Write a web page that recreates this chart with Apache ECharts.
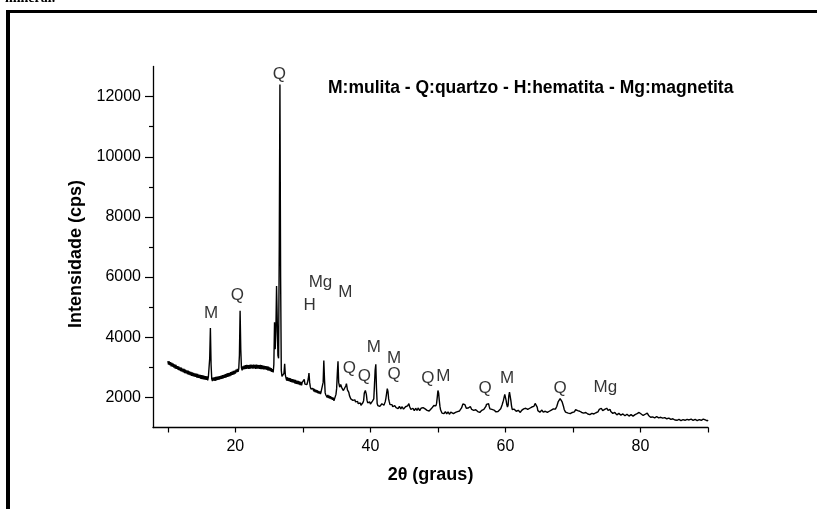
<!DOCTYPE html>
<html>
<head>
<meta charset="utf-8">
<script src="https://cdn.jsdelivr.net/npm/echarts@6/dist/echarts.min.js"></script>
<style>
html,body{margin:0;padding:0;background:#fff;}
#c{width:817px;height:509px;}
</style>
</head>
<body>
<div id="c"></div>
<script>
// XRD pattern: [2θ (graus), Intensidade (cps)]
var xrdPattern = [
[10.0,3210],[10.1,3090],[10.2,3200],[10.3,3070],[10.4,3170],[10.5,3030],[10.6,3150],[10.7,3020],[10.8,3120],[10.9,2990],
[11.0,3100],[11.1,2960],[11.2,3080],[11.3,2950],[11.4,3040],[11.5,2920],[11.6,3030],[11.7,2900],[11.8,3000],[11.9,2870],
[12.0,2990],[12.1,2860],[12.2,2960],[12.3,2830],[12.4,2950],[12.5,2810],[12.6,2920],[12.7,2800],[12.8,2900],[12.9,2770],
[13.0,2890],[13.1,2760],[13.2,2870],[13.3,2740],[13.4,2850],[13.5,2720],[13.6,2830],[13.7,2710],[13.8,2820],[13.9,2690],
[14.0,2800],[14.1,2680],[14.2,2790],[14.3,2660],[14.4,2780],[14.5,2650],[14.6,2760],[14.7,2640],[14.8,2750],[14.9,2620],
[15.0,2740],[15.1,2610],[15.2,2730],[15.3,2600],[15.4,2720],[15.5,2590],[15.6,2710],[15.7,2580],[15.8,2700],[15.9,2570],
[16.0,2680],[16.1,2720],[16.2,3300],[16.3,4310],[16.4,3100],[16.5,2620],[16.6,2540],[16.7,2660],[16.8,2560],[16.9,2670],
[17.0,2550],[17.1,2680],[17.2,2570],[17.3,2690],[17.4,2580],[17.5,2700],[17.6,2590],[17.7,2710],[17.8,2610],[17.9,2720],
[18.0,2620],[18.1,2740],[18.2,2630],[18.3,2750],[18.4,2650],[18.5,2770],[18.6,2660],[18.7,2790],[18.8,2680],[18.9,2810],
[19.0,2690],[19.1,2820],[19.2,2710],[19.3,2840],[19.4,2730],[19.5,2860],[19.6,2750],[19.7,2880],[19.8,2770],[19.9,2890],
[20.0,2790],[20.1,2920],[20.2,2830],[20.3,2950],[20.4,2850],[20.5,2950],[20.6,3400],[20.7,4880],[20.8,3600],[20.9,2980],
[21.0,2900],[21.1,3030],[21.2,2930],[21.3,3060],[21.4,2940],[21.5,3070],[21.6,2950],[21.7,3080],[21.8,2960],[21.9,3070],
[22.0,2950],[22.1,3080],[22.2,2960],[22.3,3090],[22.4,2970],[22.5,3080],[22.6,2960],[22.7,3090],[22.8,2970],[22.9,3080],
[23.0,2950],[23.1,3090],[23.2,2960],[23.3,3080],[23.4,2960],[23.5,3070],[23.6,2950],[23.7,3080],[23.8,2940],[23.9,3070],
[24.0,2940],[24.1,3060],[24.2,2930],[24.3,3050],[24.4,2930],[24.5,3040],[24.6,2920],[24.7,3030],[24.8,2900],[24.9,3020],
[25.0,2890],[25.1,3000],[25.2,2870],[25.3,2970],[25.4,2850],[25.5,2940],[25.6,2830],[25.7,3100],[25.8,4500],[25.9,3600],
[26.0,4200],[26.1,5700],[26.2,4600],[26.3,3400],[26.4,3300],[26.5,7000],[26.6,12400],[26.7,6000],[26.8,2900],[26.9,2700],
[27.0,2640],[27.1,2660],[27.2,2800],[27.3,3120],[27.4,2750],[27.5,2640],[27.6,2560],[27.7,2670],[27.8,2550],[27.9,2650],
[28.0,2530],[28.1,2640],[28.2,2520],[28.3,2620],[28.4,2500],[28.5,2610],[28.6,2490],[28.7,2590],[28.8,2470],[28.9,2580],
[29.0,2450],[29.1,2560],[29.2,2440],[29.3,2550],[29.4,2430],[29.5,2530],[29.6,2410],[29.7,2520],[29.8,2400],[29.9,2500],
[30.0,2450],[30.1,2520],[30.2,2600],[30.3,2440],[30.4,2400],[30.5,2470],[30.6,2430],[30.7,2520],[30.8,2620],[30.9,2810],
[31.0,2500],[31.1,2350],[31.2,2280],[31.3,2330],[31.4,2220],[31.5,2300],[31.6,2200],[31.7,2280],[31.8,2180],[31.9,2260],
[32.0,2160],[32.1,2240],[32.2,2140],[32.3,2220],[32.4,2130],[32.5,2200],[32.6,2110],[32.7,2190],[32.8,2150],[32.9,2250],
[33.0,2500],[33.1,3230],[33.2,2600],[33.3,2150],[33.4,2080],[33.5,2030],[33.6,2000],[33.7,2080],[33.8,1980],[33.9,2060],
[34.0,1960],[34.1,2040],[34.2,1940],[34.3,2010],[34.4,1920],[34.5,1990],[34.6,1890],[34.7,1960],[34.8,1990],[34.9,2100],
[35.0,2300],[35.1,2800],[35.2,3200],[35.3,2500],[35.45,2340],[35.6,2430],[35.7,2480],[35.8,2300],[35.9,2260],[36.0,2230],
[36.1,2180],[36.2,2200],[36.35,2380],[36.45,2460],[36.6,2250],[36.7,2200],[36.8,2170],[36.9,2060],[37.0,2010],[37.1,1950],
[37.2,1990],[37.3,1920],[37.4,1900],[37.5,1960],[37.6,1880],[37.7,1920],[37.8,1850],[37.9,1900],[38.0,1830],[38.1,1870],
[38.2,1790],[38.3,1840],[38.4,1770],[38.5,1820],[38.6,1740],[38.7,1800],[38.8,1780],[38.9,1830],[39.0,1900],[39.1,2150],
[39.25,2230],[39.4,2100],[39.5,1900],[39.6,1820],[39.75,1790],[39.9,1850],[40.0,1780],[40.1,1800],[40.2,1840],[40.3,1880],
[40.4,1860],[40.5,1950],[40.6,2400],[40.7,2900],[40.8,3100],[40.9,2300],[41.0,1800],[41.1,1730],[41.2,1780],[41.3,1760],
[41.4,1700],[41.5,1720],[41.6,1760],[41.7,1790],[41.8,1730],[41.9,1760],[42.0,1740],[42.1,1800],[42.2,1860],[42.3,1980],
[42.5,2290],[42.6,2200],[42.7,1950],[42.8,1850],[42.9,1760],[43.0,1730],[43.1,1780],[43.2,1760],[43.3,1690],[43.4,1700],
[43.5,1750],[43.6,1730],[43.7,1680],[43.8,1660],[43.9,1710],[44.0,1690],[44.1,1630],[44.2,1640],[44.3,1700],[44.4,1680],
[44.5,1620],[44.6,1630],[44.7,1690],[44.8,1670],[44.9,1610],[45.0,1640],[45.1,1660],[45.2,1690],[45.4,1700],[45.5,1720],
[45.6,1760],[45.7,1790],[45.8,1700],[45.9,1650],[46.0,1600],[46.2,1570],[46.3,1640],[46.4,1620],[46.5,1560],[46.6,1580],
[46.7,1640],[46.8,1630],[46.9,1570],[47.0,1590],[47.1,1650],[47.2,1620],[47.3,1560],[47.4,1580],[47.5,1640],[47.6,1630],
[47.8,1660],[47.9,1700],[48.0,1650],[48.1,1620],[48.2,1580],[48.4,1570],[48.5,1620],[48.6,1610],[48.7,1550],[48.9,1560],
[49.0,1620],[49.1,1610],[49.2,1650],[49.4,1730],[49.5,1690],[49.6,1680],[49.7,1720],[49.8,1800],[49.9,2000],[50.0,2230],
[50.1,2150],[50.2,1900],[50.3,1700],[50.4,1580],[50.5,1520],[50.6,1480],[50.7,1530],[50.8,1520],[50.9,1460],[51.0,1470],
[51.1,1530],[51.2,1510],[51.3,1450],[51.4,1460],[51.5,1520],[51.6,1500],[51.7,1440],[51.8,1450],[51.9,1510],[52.0,1490],
[52.1,1450],[52.3,1460],[52.4,1520],[52.6,1500],[52.7,1470],[52.9,1530],[53.0,1510],[53.2,1550],[53.3,1600],[53.5,1650],
[53.6,1700],[53.7,1780],[53.8,1820],[53.9,1840],[54.0,1760],[54.1,1700],[54.2,1640],[54.3,1620],[54.4,1660],[54.5,1650],
[54.6,1690],[54.8,1700],[54.9,1640],[55.0,1600],[55.1,1620],[55.3,1570],[55.4,1610],[55.6,1590],[55.7,1540],[55.9,1530],
[56.0,1580],[56.1,1560],[56.2,1500],[56.3,1510],[56.5,1570],[56.6,1560],[56.8,1600],[56.9,1620],[57.0,1660],[57.1,1700],
[57.2,1770],[57.3,1800],[57.4,1810],[57.5,1790],[57.6,1700],[57.7,1620],[57.8,1570],[57.9,1620],[58.0,1600],[58.1,1660],
[58.2,1630],[58.3,1580],[58.4,1560],[58.5,1580],[58.6,1520],[58.7,1500],[58.8,1480],[58.9,1530],[59.0,1540],[59.1,1580],
[59.3,1620],[59.4,1680],[59.5,1750],[59.6,1820],[59.7,1900],[59.8,2000],[59.9,2100],[60.0,2120],[60.1,1900],[60.2,1760],
[60.3,1680],[60.4,1750],[60.5,2050],[60.6,2180],[60.65,2230],[60.7,2150],[60.8,1900],[60.9,1720],[61.0,1600],[61.1,1580],
[61.2,1560],[61.3,1610],[61.5,1590],[61.6,1540],[61.8,1520],[61.9,1570],[62.0,1550],[62.2,1500],[62.3,1510],[62.4,1570],
[62.5,1560],[62.7,1620],[62.8,1600],[62.9,1580],[63.0,1640],[63.1,1660],[63.2,1610],[63.3,1600],[63.5,1660],[63.6,1640],
[63.8,1620],[63.9,1680],[64.0,1660],[64.1,1630],[64.2,1700],[64.3,1760],[64.4,1800],[64.5,1830],[64.6,1820],[64.7,1680],
[64.8,1560],[64.9,1590],[65.0,1530],[65.1,1510],[65.3,1560],[65.4,1580],[65.6,1510],[65.7,1530],[65.9,1540],[66.0,1500],
[66.2,1500],[66.3,1550],[66.5,1540],[66.6,1510],[66.8,1580],[66.9,1560],[67.0,1600],[67.1,1620],[67.3,1640],[67.4,1610],
[67.6,1700],[67.7,1760],[67.8,1850],[67.9,1800],[68.0,1880],[68.1,1960],[68.15,2000],[68.2,1940],[68.3,1900],[68.4,1850],
[68.5,1800],[68.6,1700],[68.7,1600],[68.8,1550],[68.9,1510],[69.0,1540],[69.1,1470],[69.3,1480],[69.4,1500],[69.5,1450],
[69.6,1460],[69.8,1520],[69.9,1500],[70.1,1530],[70.2,1520],[70.4,1590],[70.5,1580],[70.6,1540],[70.7,1560],[70.9,1500],
[71.0,1540],[71.2,1520],[71.3,1500],[71.5,1470],[71.6,1480],[71.8,1520],[71.9,1500],[72.1,1440],[72.2,1450],[72.4,1470],
[72.5,1430],[72.7,1480],[72.8,1470],[73.0,1430],[73.1,1450],[73.3,1500],[73.4,1490],[73.6,1530],[73.7,1520],[73.8,1580],
[73.9,1600],[74.0,1540],[74.1,1560],[74.2,1640],[74.3,1620],[74.4,1560],[74.5,1540],[74.6,1610],[74.7,1600],[74.8,1560],
[74.9,1580],[75.0,1640],[75.1,1630],[75.2,1570],[75.3,1580],[75.4,1620],[75.5,1600],[75.6,1530],[75.7,1480],[75.9,1470],
[76.0,1450],[76.2,1500],[76.3,1480],[76.5,1420],[76.6,1430],[76.8,1470],[76.9,1460],[77.1,1410],[77.2,1410],[77.4,1450],
[77.5,1440],[77.7,1390],[77.8,1400],[78.0,1440],[78.1,1430],[78.3,1380],[78.4,1390],[78.6,1430],[78.7,1420],[78.9,1380],
[79.0,1390],[79.2,1430],[79.3,1420],[79.5,1460],[79.6,1440],[79.8,1500],[79.9,1480],[80.1,1450],[80.2,1420],[80.4,1400],
[80.5,1380],[80.6,1420],[80.7,1440],[80.8,1460],[80.9,1500],[81.0,1480],[81.1,1440],[81.2,1400],[81.4,1350],[81.5,1340],
[81.7,1370],[81.8,1350],[82.0,1310],[82.1,1320],[82.3,1370],[82.4,1360],[82.6,1310],[82.7,1320],[82.9,1360],[83.0,1340],
[83.2,1300],[83.3,1310],[83.5,1350],[83.6,1330],[83.8,1280],[83.9,1290],[84.1,1330],[84.2,1310],[84.4,1260],[84.5,1270],
[84.7,1310],[84.8,1290],[85.0,1240],[85.1,1250],[85.3,1280],[85.4,1240],[85.6,1230],[85.7,1270],[85.9,1260],[86.0,1230],
[86.2,1220],[86.3,1260],[86.5,1270],[86.6,1240],[86.8,1230],[86.9,1270],[87.1,1280],[87.2,1250],[87.4,1240],[87.5,1280],
[87.7,1270],[87.8,1240],[88.0,1230],[88.1,1270],[88.3,1260],[88.4,1230],[88.6,1220],[88.7,1260],[88.9,1270],[89.0,1240],
[89.2,1230],[89.3,1280],[89.5,1270],[89.6,1250],[89.8,1230],[89.9,1220],[90.0,1250]
];
// Phase labels and their anchor (2θ, intensity)
var peakNames = ['Q','M','Q','H','Mg','M','Q','Q','M','M','Q','Q','M','Q','M','Q','Mg'];
var peakX =     [26.5,16.4,20.3,31.0,32.6,36.3,36.9,39.1,40.5,43.5,43.5,48.5,50.8,57.0,60.25,68.1,74.8];
var peakY =     [12750,4800,5400,5070,5830,5500,2960,2700,3660,3290,2770,2620,2700,2290,2620,2290,2320];
var legendText = 'M:mulita - Q:quartzo - H:hematita - Mg:magnetita';
var yAxisTitle = 'Intensidade (cps)';
var xTicks = [10,20,30,40,50,60,70,80,90];
var xLabels = [20,40,60,80];
var yTicksMinor = [3000,5000,7000,9000,11000];
var yLabels = [2000,4000,6000,8000,10000,12000];

var labelData = peakNames.map(function(n,i){return {name:n,value:[peakX[i],peakY[i]]};});

var FONT = '"Liberation Sans", Arial, sans-serif';
var chart = echarts.init(document.getElementById('c'), null, {renderer:'canvas'});
chart.setOption({
  animation:false,
  backgroundColor:'#fff',
  grid:{left:153,top:66.5,width:555,height:361,containLabel:false},
  xAxis:[{
    type:'value', min:7.8, max:90,
    name:'2θ (graus)', nameLocation:'middle', nameGap:39,
    nameTextStyle:{fontFamily:FONT,fontSize:18,fontWeight:'bold',color:'#000'},
    axisLine:{show:true,lineStyle:{color:'#000',width:1.3}},
    axisTick:{show:true,inside:false,length:5,customValues:xTicks,lineStyle:{color:'#000',width:1.2}},
    axisLabel:{show:true,customValues:xLabels,margin:11,fontFamily:FONT,fontSize:16,color:'#000',
      formatter:function(v){return String(v);}},
    splitLine:{show:false}
  }],
  yAxis:[{
    type:'value', min:1000, max:13000,
    axisLine:{show:true,lineStyle:{color:'#000',width:1.3}},
    axisTick:{show:true,inside:false,length:8,customValues:yLabels,lineStyle:{color:'#000',width:1.2}},
    axisLabel:{show:true,customValues:yLabels,margin:12,fontFamily:FONT,fontSize:16,color:'#000',
      formatter:function(v){return String(v);}},
    splitLine:{show:false}
  },{
    type:'value', min:1000, max:13000, position:'left',
    axisLine:{show:false},
    axisTick:{show:true,inside:false,length:4,customValues:yTicksMinor,lineStyle:{color:'#000',width:1.2}},
    axisLabel:{show:false},
    splitLine:{show:false}
  }],
  series:[{
    type:'line', data:xrdPattern, showSymbol:false, symbol:'none',
    lineStyle:{color:'#000',width:1.4}, silent:true
  },{
    type:'scatter', data:labelData, symbolSize:0, silent:true,
    label:{show:true,position:'inside',formatter:function(p){return p.name;},
      fontFamily:FONT,fontSize:17,color:'#000'}
  }],
  graphic:[
    {type:'rect',shape:{x:6,y:10,width:811,height:3},style:{fill:'#000'}},
    {type:'rect',shape:{x:6,y:10,width:4,height:499},style:{fill:'#000'}},
    {type:'text',x:5,y:-9,style:{text:'mineral.',font:'bold 14px "Liberation Serif", serif',fill:'#000'}},
    {type:'text',x:328,y:88,style:{text:legendText,font:'bold 17.5px "Liberation Sans", Arial, sans-serif',fill:'#000',verticalAlign:'middle'}},
    {type:'text',x:76,y:254,rotation:Math.PI/2,style:{text:yAxisTitle,font:'bold 18px "Liberation Sans", Arial, sans-serif',fill:'#000',align:'center',verticalAlign:'middle'}}
  ]
});
</script>
</body>
</html>
